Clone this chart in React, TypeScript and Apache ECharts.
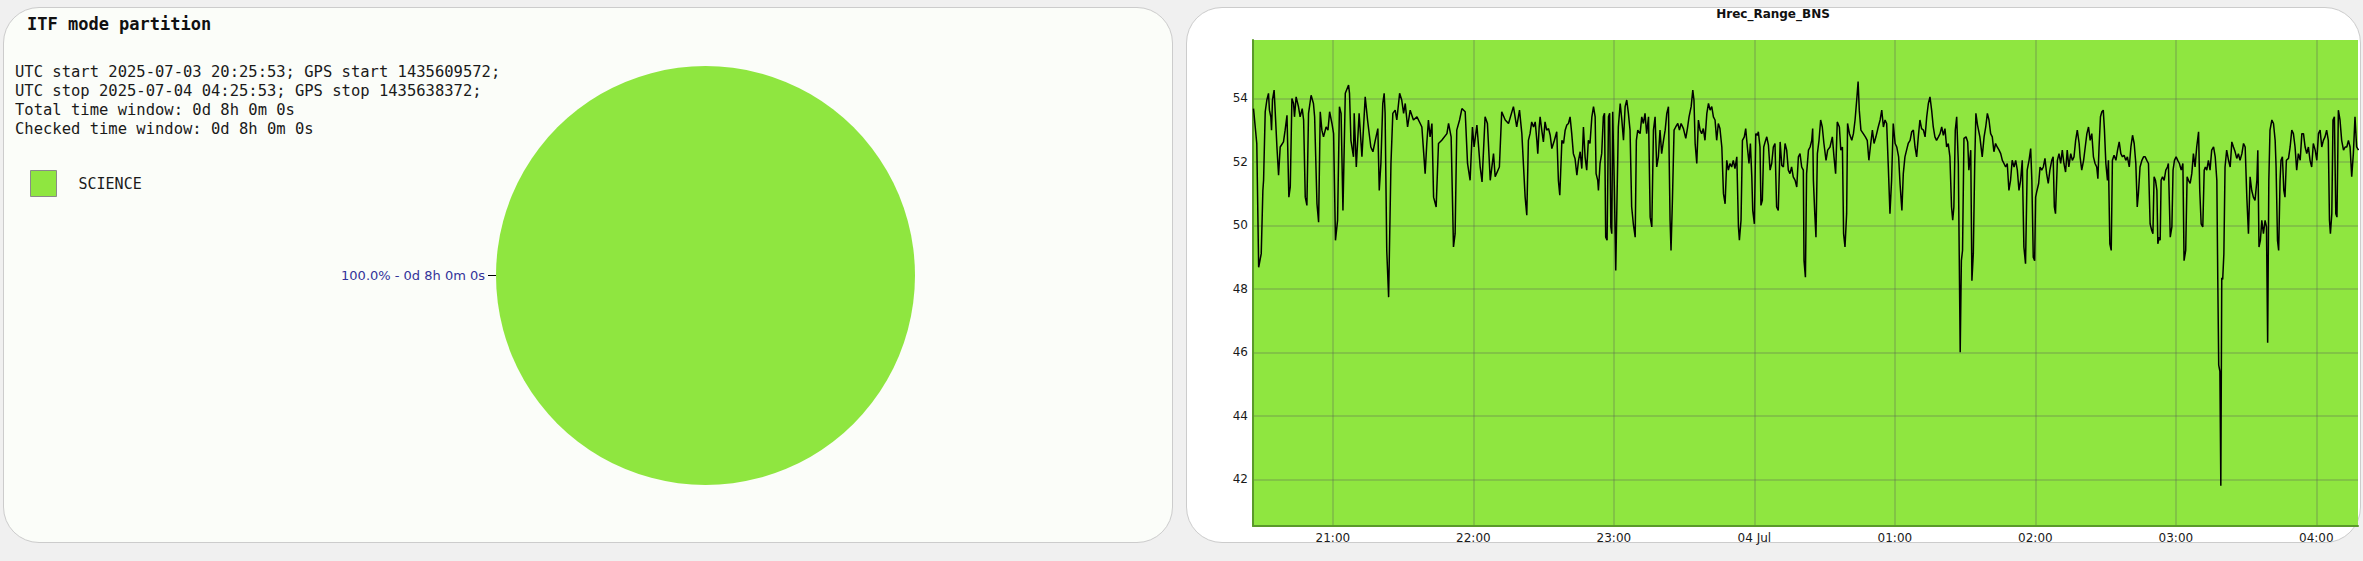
import React, { useEffect, useRef } from "react";
import * as echarts from "echarts";

// ---------- left panel: ITF mode partition ----------
const modeNames = ["SCIENCE"];
const modeSeconds = [28800];
const modeColors = ["#8fe640"];

const leftTitle = "ITF mode partition";
const infoLines = [
  "UTC start 2025-07-03 20:25:53; GPS start 1435609572;",
  "UTC stop 2025-07-04 04:25:53; GPS stop 1435638372;",
  "Total time window: 0d 8h 0m 0s",
  "Checked time window: 0d 8h 0m 0s",
];

// ---------- right panel: Hrec_Range_BNS ----------
const rightTitle = "Hrec_Range_BNS";
// [minutes after 2025-07-03 20:00:00 UTC, range in Mpc]
const samples2026to2223: [number, number][] = [
  [26.1,53.68],[27.5,52.58],[28.3,48.68],[29.4,49.11],[30.1,51.1],[30.4,51.42],[31.1,53.58],[31.8,53.95],[32.5,54.16],[32.9,53.63],[33.5,53.42],[33.8,53.0],[34.2,53.95],[34.9,54.26],[35.4,53.53],[36.1,52.47],[36.8,51.58],[37.5,52.47],[38.9,52.63],[39.6,53.0],[40.4,53.47],[41.2,50.89],[41.8,51.21],[42.5,54.0],[43.2,53.84],[43.6,53.42],[44.3,54.05],[45.3,53.74],[46.0,53.42],[46.9,53.68],[47.5,53.32],[48.2,50.89],[48.9,50.63],[49.6,53.53],[50.7,54.1],[51.7,53.84],[52.2,53.42],[53.2,50.68],[53.9,50.1],[54.6,53.58],[55.3,53.0],[56.0,52.79],[57.1,53.1],[57.9,53.0],[58.6,53.58],[59.6,53.21],[60.3,52.89],[61.1,49.53],[62.0,50.16],[62.8,53.74],[63.5,53.53],[64.3,50.47],[65.3,54.16],[66.7,54.42],[67.1,54.16],[67.7,52.68],[68.8,52.16],[69.1,53.53],[70.0,51.84],[71.2,53.53],[72.4,52.16],[73.8,54.05],[74.8,53.32],[76.2,52.47],[77.1,52.32],[78.1,52.68],[79.2,53.05],[79.8,51.1],[80.5,51.95],[81.3,53.84],[81.9,54.16],[82.3,53.53],[83.0,49.21],[83.8,47.74],[84.8,51.95],[85.6,53.53],[86.6,53.63],[87.3,53.32],[88.5,54.16],[89.4,53.95],[90.2,53.53],[90.9,53.84],[91.9,53.1],[93.0,53.63],[94.4,53.32],[95.9,53.42],[97.3,53.21],[98.0,53.1],[99.4,51.63],[100.1,52.58],[100.8,53.32],[101.5,52.79],[102.3,53.21],[103.0,50.89],[104.1,50.58],[105.1,52.58],[106.5,52.68],[108.7,52.89],[109.4,53.21],[110.5,52.79],[111.5,49.32],[112.2,49.74],[112.9,53.0],[114.1,53.32],[115.1,53.68],[116.5,53.58],[117.5,51.95],[118.6,51.42],[119.6,53.1],[120.3,52.47],[121.5,53.16],[122.9,51.84],[123.7,51.37],[125.0,53.42],[126.0,53.21],[127.2,51.42],[128.6,52.26],[129.3,51.53],[131.1,51.84],[132.1,53.58],[133.6,53.32],[135.0,53.21],[137.1,53.74],[138.5,53.1],[139.7,53.63],[140.7,52.89],[142.1,50.89],[142.8,50.32]
];
const samples2223to0021: [number, number][] = [
  [143.5,52.68],[144.2,52.89],[144.9,53.26],[145.7,53.1],[146.4,53.26],[147.1,52.68],[147.5,52.26],[148.1,53.1],[148.5,53.42],[149.2,53.0],[149.9,52.63],[150.6,53.26],[151.3,53.0],[152.1,53.05],[152.8,52.84],[153.5,52.42],[154.6,52.68],[155.6,52.95],[156.3,51.42],[156.9,50.95],[157.8,52.68],[158.5,52.58],[159.2,53.0],[159.9,53.16],[160.6,53.21],[161.3,53.42],[162.0,52.89],[162.7,52.26],[163.4,52.11],[164.2,51.58],[164.9,52.05],[165.6,52.32],[166.3,51.79],[167.0,53.1],[167.7,52.16],[168.4,51.74],[169.1,52.68],[169.8,52.58],[170.6,53.42],[171.3,53.74],[172.0,53.42],[172.4,51.63],[173.1,51.42],[173.4,51.1],[174.1,51.95],[174.8,52.26],[175.5,53.42],[176.0,53.53],[176.5,49.63],[177.1,49.53],[177.7,53.42],[178.2,53.53],[178.7,49.95],[179.1,49.74],[179.5,53.58],[180.2,51.21],[180.8,48.58],[181.4,51.1],[181.9,53.1],[182.7,53.84],[183.4,53.32],[184.1,52.68],[184.8,53.74],[185.5,53.95],[186.2,53.53],[186.9,53.0],[187.6,50.58],[188.3,50.05],[189.1,49.63],[189.6,52.68],[190.2,53.0],[191.2,52.89],[191.9,53.42],[192.6,53.21],[193.3,53.53],[194.0,52.89],[194.8,53.42],[195.5,50.26],[196.2,49.95],[196.9,53.0],[197.6,53.42],[198.3,51.84],[199.0,52.16],[199.7,53.0],[200.4,52.26],[201.2,52.68],[201.9,53.0],[202.6,53.53],[203.3,53.74],[204.0,50.16],[204.4,49.21],[205.0,50.79],[205.7,53.0],[206.4,53.1],[207.3,53.21],[208.0,53.0],[208.7,53.21],[209.7,53.05],[210.7,52.74],[211.4,53.05],[212.1,53.42],[213.0,53.74],[213.7,54.26],[214.2,53.95],[214.7,52.58],[215.4,51.95],[216.1,53.32],[216.8,53.0],[217.5,52.89],[218.2,53.05],[218.9,52.68],[219.7,53.53],[220.4,53.84],[221.1,53.63],[221.8,53.74],[222.5,53.42],[223.2,53.32],[223.9,52.68],[224.6,53.21],[225.3,53.05],[226.1,52.47],[226.8,51.0],[227.5,50.68],[228.2,52.05],[228.9,51.74],[229.6,51.95],[230.3,51.84],[231.0,52.05],[231.7,51.79],[232.5,52.16],[233.2,49.95],[233.6,49.53],[234.3,50.16],[234.9,52.68],[235.7,52.79],[236.3,53.05],[237.0,52.47],[237.7,51.95],[238.3,52.58],[238.9,51.53],[239.3,50.47],[240.0,50.05],[240.6,52.89],[241.3,52.84],[241.7,52.95],[242.4,52.47],[242.8,50.63],[243.4,50.79],[244.0,52.47],[244.6,52.63],[245.3,52.79],[246.0,52.53],[246.7,51.74],[247.4,51.95],[248.1,52.47],[248.8,52.58],[249.5,50.58],[250.2,50.47],[251.0,52.63],[251.7,51.89],[252.4,51.84],[253.1,52.58],[253.8,52.37],[254.5,51.74],[255.2,51.63],[255.9,51.84],[256.6,51.53],[257.4,51.42],[258.1,51.21],[258.8,52.16],[259.5,52.26],[260.2,51.84],[260.9,51.74]
];
const samples0021to0219: [number, number][] = [
  [261.2,48.89],[261.8,48.37],[262.3,51.63],[263.1,52.37],[263.8,52.47],[264.5,52.68],[264.9,53.05],[265.2,51.42],[265.8,50.37],[266.3,49.63],[266.9,52.26],[267.6,52.68],[268.3,53.32],[269.0,53.1],[269.7,52.58],[270.6,52.05],[271.3,52.37],[272.3,52.47],[273.3,52.79],[274.0,52.16],[274.7,51.63],[275.4,53.26],[276.3,53.1],[276.9,52.37],[277.6,52.47],[278.1,49.74],[278.7,49.32],[279.4,50.37],[279.8,53.21],[280.6,52.89],[281.6,52.68],[282.3,52.89],[283.0,53.32],[283.7,53.95],[284.3,54.53],[284.8,53.63],[285.5,53.0],[286.5,52.89],[287.4,52.79],[288.2,52.68],[288.9,52.05],[289.7,52.58],[290.4,53.0],[291.1,52.58],[291.9,52.79],[292.9,53.1],[293.7,53.32],[294.4,53.63],[295.1,53.1],[295.8,53.32],[296.5,53.21],[297.2,51.84],[297.9,50.37],[298.6,51.42],[299.3,53.21],[300.1,52.58],[300.8,52.47],[301.6,52.16],[302.2,51.32],[303.0,50.47],[303.6,51.63],[304.3,52.16],[305.0,52.37],[305.7,52.58],[306.5,52.68],[307.2,52.95],[307.9,53.0],[308.6,52.47],[309.3,52.16],[310.0,52.79],[310.7,53.32],[311.4,53.05],[312.2,53.0],[312.9,52.79],[313.6,53.42],[314.3,53.84],[315.0,54.05],[315.7,53.63],[316.4,53.1],[317.1,52.79],[317.8,52.68],[318.6,52.79],[319.3,52.89],[320.0,53.1],[320.7,52.84],[321.4,53.05],[322.1,52.47],[322.8,52.58],[323.5,52.16],[324.2,50.58],[324.7,50.16],[325.2,50.58],[325.8,53.0],[326.4,53.42],[327.1,51.95],[327.9,46.0],[328.4,48.89],[328.9,49.21],[329.5,52.74],[330.4,52.79],[331.1,52.63],[331.6,51.74],[332.4,52.37],[332.9,48.26],[333.5,49.11],[334.1,51.95],[334.6,53.53],[335.3,53.16],[336.3,52.79],[337.3,52.16],[338.1,52.79],[338.8,53.1],[339.5,53.53],[340.2,53.32],[340.9,52.89],[341.6,52.79],[342.3,52.32],[343.0,52.58],[343.7,52.47],[344.5,52.37],[345.2,52.26],[345.9,52.05],[346.6,51.95],[347.3,51.84],[348.0,51.95],[348.7,51.1],[349.4,51.42],[350.1,52.05],[350.9,51.84],[351.6,52.05],[352.3,51.74],[353.0,51.1],[353.7,51.42],[354.4,52.05],[355.1,49.32],[355.8,48.79],[356.5,51.74],[357.3,52.05],[358.0,52.42],[358.5,51.42],[359.1,49.0],[359.7,48.89],[360.1,50.89],[360.7,51.1],[361.4,51.32],[362.0,51.84],[362.7,51.74],[363.4,51.84],[364.1,52.11],[364.8,51.63],[365.5,51.32],[366.2,51.74],[367.0,52.05],[367.6,52.16],[368.1,50.58],[368.6,50.37],[369.4,52.05],[370.1,52.26],[370.8,51.95],[371.5,52.37],[372.2,51.95],[372.9,51.68],[373.6,52.37],[374.3,51.84],[375.1,52.26],[375.8,52.05],[376.5,52.16],[377.2,52.68],[377.9,53.0],[378.7,52.58]
];
const samples0219to0418: [number, number][] = [
  [379.1,52.16],[379.8,51.74],[380.6,52.05],[381.3,52.47],[382.0,52.89],[382.7,53.1],[383.4,52.68],[384.1,52.89],[384.8,52.16],[385.5,51.95],[386.2,51.84],[386.7,51.47],[387.2,52.47],[387.8,53.42],[388.4,53.58],[389.0,53.63],[389.5,53.0],[390.1,51.95],[390.8,51.42],[391.2,52.05],[391.8,49.42],[392.4,49.21],[392.9,52.05],[393.6,52.21],[394.4,52.05],[395.1,52.37],[395.8,52.63],[396.5,52.26],[397.2,52.16],[397.9,52.21],[398.6,52.05],[399.3,52.16],[400.1,51.84],[400.8,52.47],[401.5,52.84],[402.2,52.58],[402.9,51.95],[403.5,50.58],[404.0,51.0],[404.7,51.84],[405.5,52.05],[406.2,52.16],[406.9,52.16],[407.6,52.05],[408.3,51.95],[409.0,50.05],[409.7,49.84],[410.2,49.74],[410.7,51.53],[411.3,51.42],[411.9,51.1],[412.3,49.42],[412.9,49.63],[413.3,49.53],[413.7,51.42],[414.3,51.53],[415.0,51.42],[415.7,51.74],[416.4,51.84],[416.8,51.95],[417.6,49.63],[418.3,49.95],[418.8,51.74],[419.4,52.05],[420.1,52.16],[420.8,52.05],[421.5,51.95],[422.3,51.74],[423.0,51.95],[423.5,48.89],[424.2,49.21],[424.8,51.53],[425.4,51.42],[426.1,51.32],[426.8,51.63],[427.5,52.26],[428.2,51.84],[428.9,52.47],[429.7,52.95],[430.2,51.1],[430.8,50.05],[431.5,49.95],[432.1,51.74],[432.6,51.84],[433.2,51.74],[433.9,52.05],[434.6,51.74],[435.3,52.37],[436.1,52.47],[436.8,52.16],[437.5,51.42],[437.9,48.3],[438.3,45.6],[438.8,45.4],[439.2,41.8],[439.6,48.35],[440.0,48.3],[440.5,49.1],[441.0,51.84],[441.7,52.37],[442.5,52.05],[443.2,51.84],[443.9,52.63],[444.6,52.47],[445.3,52.32],[446.0,52.11],[446.7,52.26],[447.4,52.05],[448.2,52.26],[448.9,52.58],[449.6,52.47],[450.3,50.89],[451.0,49.74],[451.7,51.53],[452.4,51.1],[453.1,50.89],[453.8,50.79],[454.6,51.42],[455.0,52.37],[455.5,49.32],[456.1,49.53],[456.7,50.16],[457.4,49.74],[458.1,50.16],[458.7,49.95],[459.2,46.3],[459.7,51.42],[460.2,53.0],[461.0,53.32],[461.7,53.21],[462.4,52.68],[462.8,51.84],[463.4,49.53],[463.9,49.21],[464.5,51.42],[464.9,52.05],[465.5,52.16],[466.1,51.1],[466.6,50.89],[467.2,52.05],[468.1,52.11],[468.8,52.47],[469.5,53.0],[470.2,52.89],[470.9,52.47],[471.6,51.74],[472.3,52.26],[473.1,52.05],[473.8,52.89],[474.5,52.89],[475.2,52.47],[475.9,52.26],[476.6,52.47],[477.3,52.05],[478.0,51.84],[478.7,52.58],[479.5,52.37],[480.2,52.05],[480.9,52.89],[481.6,53.0],[482.3,52.47],[483.0,52.68],[483.7,52.79],[484.4,53.0],[485.1,52.68],[485.6,50.16],[486.0,49.74],[486.6,50.37],[487.1,53.32],[487.7,53.42],[488.3,50.37],[488.8,50.26],[489.4,53.63],[490.1,53.32],[490.8,52.68],[491.6,52.37],[492.3,52.47],[493.0,52.47],[493.7,52.68],[494.4,52.47],[495.1,51.53],[495.8,52.26],[496.5,53.42],[497.2,52.47],[498.0,52.37]
];

const T0 = Date.UTC(2025, 6, 3, 20, 0, 0);
const X_MIN = Date.UTC(2025, 6, 3, 20, 25, 53);
const X_MAX = Date.UTC(2025, 6, 4, 4, 17, 47);
const Y_MIN = 40.53;
const Y_MAX = 55.84;

const MONO = '"DejaVu Sans Mono", "Liberation Mono", monospace';
const SANS = '"DejaVu Sans", "Noto Sans", sans-serif';
const PLOT_GREEN = "#8fe640";
const GRID_LINE = "rgba(90,90,90,0.32)";

function fmtDuration(sec: number): string {
  const d = Math.floor(sec / 86400);
  const h = Math.floor((sec % 86400) / 3600);
  const m = Math.floor((sec % 3600) / 60);
  const s = Math.floor(sec % 60);
  return `${d}d ${h}h ${m}m ${s}s`;
}

function pad2(n: number) {
  return n < 10 ? "0" + n : "" + n;
}
const MONTHS = ["Jan", "Feb", "Mar", "Apr", "May", "Jun", "Jul", "Aug", "Sep", "Oct", "Nov", "Dec"];

export default function App() {
  const ref = useRef<HTMLDivElement>(null);

  useEffect(() => {
    if (!ref.current) return;
    const chart = echarts.init(ref.current, null, { renderer: "svg" });
    const all = [
      ...samples2026to2223,
      ...samples2223to0021,
      ...samples0021to0219,
      ...samples0219to0418,
    ];
    const lineData = all.map(([m, v]) => [T0 + m * 60000, v]);

    const option: any = {
      animation: false,
      useUTC: true,
      backgroundColor: "transparent",
      title: [
        {
          text: leftTitle,
          left: 27,
          top: 15,
          padding: 0,
          textStyle: { fontFamily: MONO, fontWeight: "bold", fontSize: 17, color: "#111" },
        },
        {
          text: rightTitle,
          left: 1773,
          top: 8,
          padding: 0,
          textAlign: "center",
          textStyle: { fontFamily: SANS, fontWeight: "bold", fontSize: 12, color: "#111" },
        },
      ],
      graphic: infoLines.map((t, i) => ({
        type: "text",
        x: 15,
        y: 71.5 + i * 19,
        silent: true,
        style: {
          text: t,
          fontFamily: MONO,
          fontSize: 15.5,
          fill: "#1a1a1a",
          verticalAlign: "middle",
        },
      })),
      legend: {
        data: modeNames,
        orient: "vertical",
        left: 30,
        top: 170,
        padding: 0,
        icon: "rect",
        itemWidth: 26,
        itemHeight: 26,
        selectedMode: false,
        itemStyle: { borderColor: "#8a8a8a", borderWidth: 1 },
        textStyle: { fontFamily: MONO, fontSize: 15, color: "#1a1a1a", padding: [4, 0, 0, 17] },
      },
      grid: {
        left: 1253,
        top: 40,
        width: 1105,
        height: 486,
        show: true,
        backgroundColor: PLOT_GREEN,
        borderWidth: 0,
      },
      xAxis: {
        type: "time",
        min: X_MIN,
        max: X_MAX,
        splitNumber: 8,
        minInterval: 3600000,
        maxInterval: 3600000,
        axisLine: { show: true, lineStyle: { color: "#5a9a2a", width: 2 } },
        axisTick: { show: false },
        axisLabel: {
          showMinLabel: false,
          showMaxLabel: false,
          margin: 6,
          fontFamily: SANS,
          fontSize: 12,
          color: "#1a1a1a",
          formatter: (v: number) => {
            const d = new Date(v);
            const h = d.getUTCHours();
            const mi = d.getUTCMinutes();
            if (h === 0 && mi === 0) return pad2(d.getUTCDate()) + " " + MONTHS[d.getUTCMonth()];
            return pad2(h) + ":" + pad2(mi);
          },
        },
        splitLine: {
          show: true,
          showMinLine: false,
          showMaxLine: false,
          lineStyle: { color: GRID_LINE, width: 1.5 },
        },
      },
      yAxis: {
        type: "value",
        min: Y_MIN,
        max: Y_MAX,
        splitNumber: 7,
        axisLine: { show: true, lineStyle: { color: "#5a9a2a", width: 2 } },
        axisTick: { show: false },
        axisLabel: {
          showMinLabel: false,
          showMaxLabel: false,
          margin: 5,
          fontFamily: SANS,
          fontSize: 12,
          color: "#1a1a1a",
        },
        splitLine: {
          show: true,
          showMinLine: false,
          showMaxLine: false,
          lineStyle: { color: GRID_LINE, width: 1.5 },
        },
      },
      series: [
        {
          type: "pie",
          name: leftTitle,
          center: [705.5, 275.5],
          radius: 209.5,
          startAngle: 0,
          clockwise: true,
          silent: true,
          emphasis: { disabled: true },
          data: modeNames.map((n, i) => ({
            name: n,
            value: modeSeconds[i],
            itemStyle: { color: modeColors[i] },
          })),
          label: {
            show: true,
            position: "outside",
            fontFamily: SANS,
            fontSize: 13,
            color: "#333399",
            distanceToLabelLine: 3,
            formatter: (p: any) => `${p.percent.toFixed(1)}% - ${fmtDuration(p.value)}`,
          },
          labelLine: { show: true, length: 8, length2: 0, lineStyle: { color: "#000", width: 1 } },
        },
        {
          type: "line",
          name: rightTitle,
          data: lineData,
          showSymbol: false,
          symbol: "none",
          silent: true,
          clip: true,
          lineStyle: { color: "#000", width: 1.5 },
          itemStyle: { color: "#000" },
        },
      ],
    };
    chart.setOption(option);
    return () => chart.dispose();
  }, []);

  const panel: React.CSSProperties = {
    position: "absolute",
    top: 7,
    height: 536,
    border: "1px solid #cccccc",
    borderRadius: 36,
    boxSizing: "border-box",
  };

  return (
    <div
      style={{
        position: "fixed",
        left: 0,
        top: 0,
        width: 2363,
        height: 561,
        background: "#f0f0f0",
        overflow: "hidden",
      }}
    >
      <div style={{ ...panel, left: 3, width: 1170, background: "#fbfdf9" }} />
      <div style={{ ...panel, left: 1186, width: 1175, background: "#ffffff" }} />
      <div ref={ref} style={{ position: "absolute", left: 0, top: 0, width: 2363, height: 561 }} />
    </div>
  );
}
